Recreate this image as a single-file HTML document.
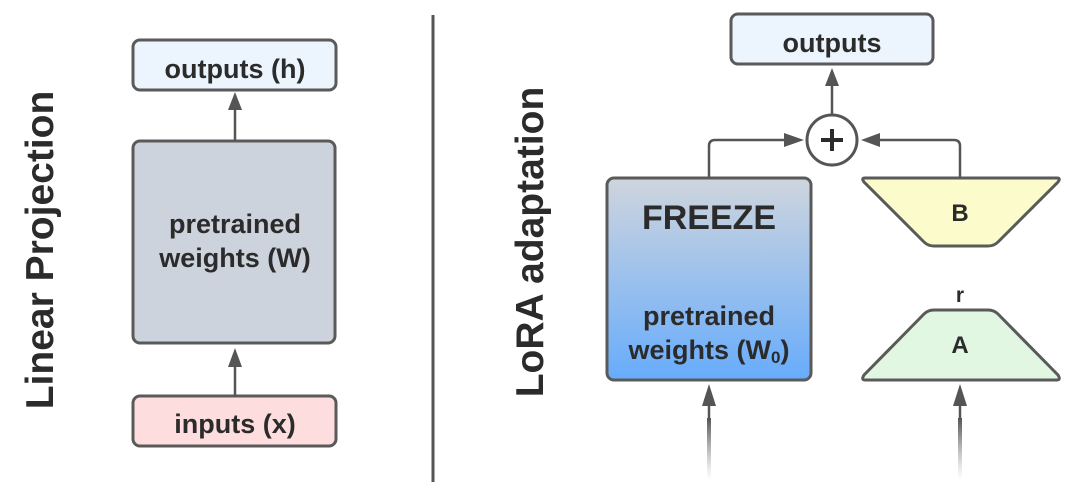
<!DOCTYPE html>
<html><head><style>
body{margin:0;background:#fff;}
svg{display:block;font-family:"Liberation Sans",sans-serif;font-weight:bold;}
</style></head><body>
<svg width="1080" height="497" viewBox="0 0 1080 497" xmlns="http://www.w3.org/2000/svg">
<defs>
<linearGradient id="g" x1="0" y1="0" x2="0" y2="1">
<stop offset="0" stop-color="#cfd5dd"/><stop offset="1" stop-color="#67acfc"/>
</linearGradient>
<linearGradient id="fade" x1="0" y1="0" x2="0" y2="1">
<stop offset="0" stop-color="#555"/><stop offset="0.3" stop-color="#777" stop-opacity="0.8"/><stop offset="1" stop-color="#aaa" stop-opacity="0"/>
</linearGradient>
</defs>
<g fill="#2b2b2b">
<text transform="translate(53,250) rotate(-90)" text-anchor="middle" font-size="39">Linear Projection</text>
<text transform="translate(543,242) rotate(-90)" text-anchor="middle" font-size="39">LoRA adaptation</text>
</g>
<line x1="433" y1="15" x2="433" y2="482" stroke="#555" stroke-width="3"/>
<!-- left -->
<rect x="133" y="40" width="203" height="50" rx="7" fill="#ecf4fe" stroke="#5a5a5a" stroke-width="3"/>
<text x="235" y="78" text-anchor="middle" font-size="27" fill="#2b2b2b">outputs (h)</text>
<rect x="133" y="141" width="202" height="202" rx="7" fill="#cdd3dc" stroke="#5a5a5a" stroke-width="3"/>
<text x="235" y="233" text-anchor="middle" font-size="27" fill="#2b2b2b">pretrained</text>
<text x="235" y="267" text-anchor="middle" font-size="27" fill="#2b2b2b">weights (W)</text>
<rect x="133" y="396" width="203" height="50" rx="7" fill="#fddddd" stroke="#5a5a5a" stroke-width="3"/>
<text x="235" y="433" text-anchor="middle" font-size="27" fill="#2b2b2b">inputs (x)</text>
<g stroke="#555" stroke-width="2.5" fill="none">
<line x1="235" y1="141" x2="235" y2="108"/>
<line x1="235" y1="396" x2="235" y2="365"/>
<line x1="832" y1="114" x2="832" y2="84"/>
<path d="M709 177 V146 Q709 140 715 140 H786"/>
<path d="M960 177 V146 Q960 140 954 140 H878"/>
<line x1="709" y1="405" x2="709" y2="420"/>
<line x1="960" y1="405" x2="960" y2="420"/>
</g>
<g fill="#555">
<path d="M228 110 L242 110 L235 92 Z"/>
<path d="M228 367 L242 367 L235 348 Z"/>
<path d="M825 86 L839 86 L832 68 Z"/>
<path d="M784 133 L784 147 L804 140 Z"/>
<path d="M880 133 L880 147 L861 140 Z"/>
<path d="M702 406 L716 406 L709 384 Z"/>
<path d="M953 406 L967 406 L960 384 Z"/>
</g>
<rect x="707" y="418" width="4" height="62" fill="url(#fade)"/>
<rect x="958" y="418" width="4" height="62" fill="url(#fade)"/>
<!-- right -->
<rect x="731" y="14" width="202" height="50" rx="7" fill="#ecf4fe" stroke="#5a5a5a" stroke-width="3"/>
<text x="832" y="52" text-anchor="middle" font-size="27" fill="#2b2b2b">outputs</text>
<circle cx="832" cy="140" r="25" fill="#fff" stroke="#555" stroke-width="3"/>
<path d="M832 129 V151 M821 140 H843" stroke="#2b2b2b" stroke-width="4"/>
<rect x="607" y="178" width="204" height="202" rx="7" fill="url(#g)" stroke="#5a5a5a" stroke-width="3"/>
<text x="709" y="229" text-anchor="middle" font-size="34" fill="#2b2b2b">FREEZE</text>
<text x="709" y="325" text-anchor="middle" font-size="27" fill="#2b2b2b">pretrained</text>
<text x="709" y="359" text-anchor="middle" font-size="27" fill="#2b2b2b">weights (W<tspan font-size="17" dy="4">0</tspan><tspan dy="-4">)</tspan></text>
<path d="M865 178 L1057 178 Q1061 178 1058 182 L998 242 Q994 246 988 246 L934 246 Q928 246 924 242 L864 182 Q861 178 865 178 Z" fill="#fbfbcc" stroke="#5a5a5a" stroke-width="3"/>
<text x="960" y="221" text-anchor="middle" font-size="24" fill="#2b2b2b">B</text>
<text x="960" y="302" text-anchor="middle" font-size="21" fill="#2b2b2b">r</text>
<path d="M934 310 L988 310 Q994 310 998 314 L1058 375 Q1061 380 1057 380 L865 380 Q861 380 864 375 L924 314 Q928 310 934 310 Z" fill="#e1f7e1" stroke="#5a5a5a" stroke-width="3"/>
<text x="960" y="353" text-anchor="middle" font-size="24" fill="#2b2b2b">A</text>
</svg>
</body></html>
